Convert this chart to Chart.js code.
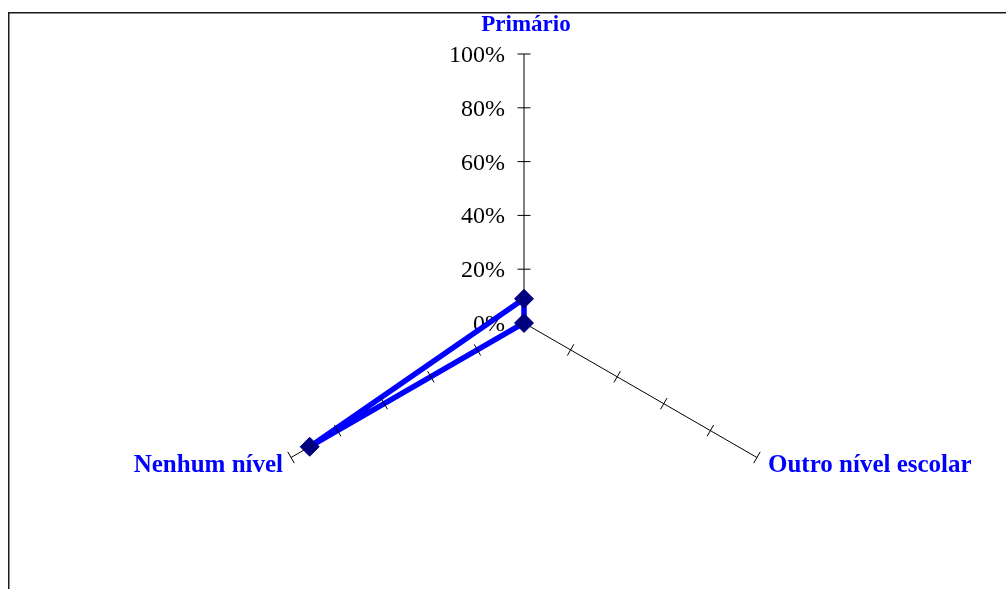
<!DOCTYPE html>
<html>
<head>
<meta charset="utf-8">
<style>
  html, body { margin: 0; padding: 0; background: #fff; overflow: hidden; }
  canvas { display: block; }
</style>
<script src="https://cdn.jsdelivr.net/npm/chart.js@4"></script>
</head>
<body>
<canvas id="radar" width="1006" height="600"></canvas>
<script>
// Education level categories, clockwise from the top axis
const categories = ['Primário', 'Outro nível escolar', 'Nenhum nível'];
// Share of respondents per level (%)
const shareValues = [9, 0, 92];
// Radial scale ticks (%)
const tickValues = [0, 20, 40, 60, 80, 100];
const tickLabels = ['0%', '20%', '40%', '60%', '80%', '100%'];

// Frame, tick labels and category labels drawn beneath the series
const decorPlugin = {
  id: 'decor',
  beforeDatasetsDraw(chart) {
    const ctx = chart.ctx;
    const r = chart.scales.r;
    ctx.save();
    // outer frame (left and top edges visible)
    ctx.strokeStyle = '#1a1a1a';
    ctx.lineWidth = 1.5;
    ctx.beginPath();
    ctx.moveTo(8.75, 700);
    ctx.lineTo(8.75, 12.75);
    ctx.lineTo(1100, 12.75);
    ctx.stroke();

    // tick labels along the top axis
    ctx.fillStyle = '#000';
    ctx.font = '24px "Liberation Serif", "Times New Roman", serif';
    ctx.textAlign = 'right';
    ctx.textBaseline = 'alphabetic';
    tickValues.forEach((v, i) => {
      const p = r.getPointPosition(0, r.getDistanceFromCenterForValue(v));
      ctx.fillText(tickLabels[i], p.x - 19, p.y + 8);
    });

    // category labels at the end of each axis
    ctx.fillStyle = '#0000FF';
    const ends = categories.map((_, i) => r.getPointPosition(i, r.drawingArea));
    ctx.font = 'bold 23px "Liberation Serif", "Times New Roman", serif';
    ctx.textAlign = 'center';
    ctx.fillText(categories[0], ends[0].x + 2, ends[0].y - 23);
    ctx.font = 'bold 25px "Liberation Serif", "Times New Roman", serif';
    ctx.textAlign = 'left';
    ctx.fillText(categories[1], ends[1].x + 11, ends[1].y + 14);
    ctx.textAlign = 'right';
    ctx.fillText(categories[2], ends[2].x - 8, ends[2].y + 14);
    ctx.restore();
  },
  // small tick marks crossing each axis
  afterDatasetsDraw(chart) {
    const ctx = chart.ctx;
    const r = chart.scales.r;
    ctx.save();
    ctx.strokeStyle = '#000';
    ctx.lineWidth = 1;
    categories.forEach((_, i) => {
      const end = r.getPointPosition(i, r.drawingArea);
      const dx = end.x - r.xCenter, dy = end.y - r.yCenter;
      const len = Math.hypot(dx, dy);
      const nx = -dy / len, ny = dx / len;
      tickValues.slice(1).forEach(v => {
        const p = r.getPointPosition(i, r.getDistanceFromCenterForValue(v));
        ctx.beginPath();
        ctx.moveTo(p.x - nx * 6.5, p.y - ny * 6.5);
        ctx.lineTo(p.x + nx * 6.5, p.y + ny * 6.5);
        ctx.stroke();
      });
    });
    ctx.restore();
  }
};

new Chart(document.getElementById('radar'), {
  type: 'radar',
  data: {
    labels: categories,
    datasets: [{
      data: shareValues,
      borderColor: '#0000FF',
      borderWidth: 5.5,
      fill: false,
      backgroundColor: 'transparent',
      pointStyle: 'rectRot',
      pointRadius: 9.5,
      pointBackgroundColor: '#000080',
      pointBorderColor: '#000080',
      pointBorderWidth: 1,
      tension: 0
    }]
  },
  options: {
    responsive: false,
    animation: false,
    layout: { padding: { top: 54, bottom: 8, left: 42, right: 0 } },
    plugins: {
      legend: { display: false },
      tooltip: { enabled: false }
    },
    scales: {
      r: {
        min: 0,
        max: 100,
        ticks: { display: false, stepSize: 20 },
        grid: { display: false },
        angleLines: { display: true, color: '#000', lineWidth: 1 },
        pointLabels: { display: false }
      }
    }
  },
  plugins: [decorPlugin]
});
</script>
</body>
</html>
